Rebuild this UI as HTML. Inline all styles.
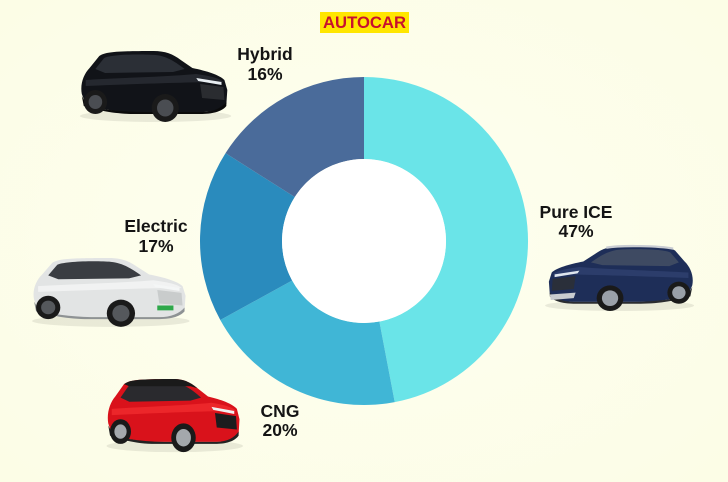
<!DOCTYPE html>
<html><head><meta charset="utf-8"><style>
html,body{margin:0;padding:0;background:#fdfde9;}
svg{display:block;}
text{font-family:"Liberation Sans",sans-serif;}
</style></head><body>
<svg width="728" height="482" viewBox="0 0 728 482" xmlns="http://www.w3.org/2000/svg">
<defs>
<radialGradient id="bg" cx="50%" cy="50%" r="70%">
<stop offset="0" stop-color="#fefef0"/><stop offset="1" stop-color="#fcfde6"/>
</radialGradient>
<g id="car">
  <ellipse cx="82" cy="66" rx="78" ry="6" fill="#000" opacity="0.08"/>
  <path fill="var(--body)" d="M6,44 C4,34 8,24 14,18 L24,6 C30,2 40,1 80,1 C92,1 100,4 108,10 L120,18 C135,21 148,25 153,30 L156,40 L155,54 C150,60 140,62 130,62 L60,62 C40,62 20,58 10,54 Z"/>
  <path fill="var(--hi)" d="M10,30 C40,28 90,27 124,24 C138,26 148,28 152,32 C120,32 60,34 10,36 Z" opacity="0.5"/>
  <path fill="var(--win)" d="M20,19 L29,8 C38,4 70,4 82,5 C92,6 100,10 112,19 L100,22 L30,23 Z"/>
  <path fill="var(--clad)" d="M6,46 L12,56 C30,60 50,62 70,62 L130,62 C142,62 150,58 155,52 L155,56 C150,62 140,64 128,64 L60,64 C40,64 20,60 8,56 Z"/>
  <path fill="var(--grille)" d="M128,34 L152,37 L153,50 L130,48 Z"/>
  <path fill="var(--lamp)" d="M124,28 L150,32 L150,35 L126,31 Z"/>
  <circle cx="20" cy="52" r="12" fill="#1a1a1a"/>
  <circle fill="var(--rim)" cx="20" cy="52" r="7"/>
  <circle cx="92" cy="58" r="14" fill="#1a1a1a"/>
  <circle fill="var(--rim)" cx="92" cy="58" r="8.5"/>
</g>
</defs>
<rect width="728" height="482" fill="url(#bg)"/>

<!-- logo -->
<rect x="320" y="12" width="89" height="21" fill="#ffe600"/>
<text x="323" y="28" font-size="17" font-weight="bold" fill="#c8102e" textLength="83" lengthAdjust="spacingAndGlyphs">AUTOCAR</text>

<!-- donut -->
<path d="M364,77 A164,164 0 0 1 394.73,402.10 L379.37,321.55 A82,82 0 0 0 364,159 Z" fill="#6ae4e8"/>
<path d="M394.73,402.10 A164,164 0 0 1 220.29,320.02 L292.14,280.51 A82,82 0 0 0 379.37,321.55 Z" fill="#40b6d6"/>
<path d="M220.29,320.02 A164,164 0 0 1 225.53,153.13 L294.77,197.06 A82,82 0 0 0 292.14,280.51 Z" fill="#2a8bbd"/>
<path d="M225.53,153.13 A164,164 0 0 1 364,77 L364,159 A82,82 0 0 0 294.77,197.06 Z" fill="#4a6b9a"/>
<circle cx="364" cy="241" r="82" fill="#ffffff"/>

<!-- labels -->
<g font-size="17.5" font-weight="bold" fill="#141414" text-anchor="middle">
<text x="265" y="60">Hybrid</text><text x="265" y="80">16%</text>
<text x="576" y="218">Pure ICE</text><text x="576" y="237">47%</text>
<text x="156" y="232">Electric</text><text x="156" y="252">17%</text>
<text x="280" y="417">CNG</text><text x="280" y="436">20%</text>
</g>

<!-- Hybrid car (black) -->
<g transform="translate(76,50) scale(0.97,1)" style="--body:#111318;--hi:#3a3e46;--win:#2b2f36;--clad:#0a0a0a;--grille:#2a2c30;--lamp:#e8eef2;--rim:#4a4d52">
<use href="#car"/>
</g>

<!-- Pure ICE car (blue, faces left) -->
<g transform="translate(698,245) scale(-0.956,0.917)" style="--body:#1e2e58;--hi:#3a4c7e;--win:#3e4a62;--clad:#2a2c30;--grille:#2a2f3a;--lamp:#dfe6ee;--rim:#9aa0a8">
<use href="#car"/>
<path d="M26,4 C40,1 80,0 96,3" stroke="#c9ccd2" stroke-width="2.5" fill="none"/>
<path d="M128,52 L155,54 L154,60 L130,58 Z" fill="#c8ccd0"/>
</g>

<!-- Electric car (white) -->
<g transform="translate(28,257) scale(1.01,0.97)" style="--body:#e2e4e4;--hi:#ffffff;--win:#3a3d42;--clad:#8e9294;--grille:#c9cccc;--lamp:#f4f6f6;--rim:#55585c">
<use href="#car"/>
<rect x="128" y="50" width="16" height="5" fill="#2ea84a"/>
</g>

<!-- CNG car (red) -->
<g transform="translate(103,378) scale(0.875,1.03)" style="--body:#d9121b;--hi:#ff3a3a;--win:#2a2a2e;--clad:#222;--grille:#1c1c1e;--lamp:#f0f0f0;--rim:#a4a8ac">
<use href="#car"/>
<path d="M24,6 C30,2 40,1 80,1 C92,1 100,4 108,10 L100,8 L30,8 Z" fill="#1a1a1a"/>
</g>
</svg>
</body></html>
